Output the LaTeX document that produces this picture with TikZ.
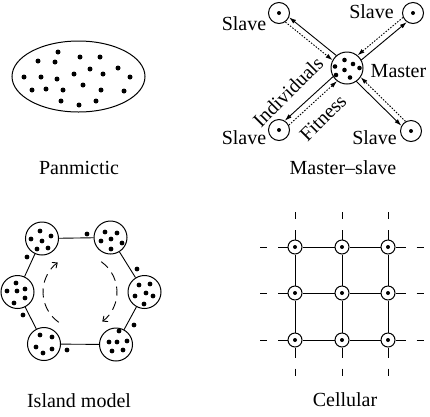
\documentclass[tikz,border=0pt]{standalone}
\usepackage{fontspec}
\setmainfont{Liberation Serif}
\usetikzlibrary{calc,arrows.meta}

\begin{document}
\begin{tikzpicture}[x=1pt,y=1pt,
        tag/.style={font=\fontsize{20}{24}\selectfont,inner sep=1pt},
        cell/.style={draw,circle,line width=1pt,inner sep=0pt,fill=white},
        link/.style={line width=0.9pt},
        send/.style={line width=0.9pt,-{Latex[length=7pt,width=4.5pt]},shorten <=16pt,shorten >=10.6pt},
        back/.style={line width=0.9pt,dash pattern=on 1.5pt off 1.5pt,-{Latex[length=7pt,width=4.5pt]},shorten <=10.6pt,shorten >=16.2pt},
        flow/.style={line width=0.9pt,dash pattern=on 9pt off 6pt,-{Straight Barb[length=4pt,width=7pt]}},
        stub/.style={line width=0.9pt,dash pattern=on 10pt off 11pt on 7pt off 20pt}]
        \useasboundingbox (0,0) rectangle (430,-416);

        % panmictic
        \draw[line width=1pt] (78.5,-76.5) ellipse (66.5 and 35.5);
        \foreach \x/\y in {58/52,38/61,55/62,80/57,100/57,118/68,90/69,103/74,74/74,24/77,41/77,57/79,
                130/77,83/85,32/90,46/89,63/90,101/90,124/91,61/101,79/105,96/101}
            \fill (\x,-\y) circle (2.5);
        \node[tag] (pan) at (79,-168) {Panmictic};

        % master-slave
        \node[cell,minimum size=32pt] (M) at (347,-68) {};
        \node[cell,minimum size=21pt] (s1) at (279,-13) {};
        \node[cell,minimum size=21pt] (s2) at (413,-13) {};
        \node[cell,minimum size=21pt] (s3) at (411,-131) {};
        \node[cell,minimum size=21pt] (s4) at (279,-130) {};
        \foreach \dx/\dy in {-2.5/8,6/4,-12/1.5,-2.5/-2,12.5/0,-11/-7,3/-9.5}
            \fill ($(M)+(\dx,\dy)$) circle (2.3);
        \foreach \s in {s1,s2,s3,s4}{
            \fill (\s) circle (2);
            \draw[send] ($(M)!3pt!-90:(\s)$) -- ($(\s)!3pt!90:(M)$);
            \draw[back] ($(\s)!3pt!-90:(M)$) -- ($(M)!3pt!90:(\s)$);
        }
        \node[tag] (l1) at (244,-24) {Slave};
        \node[tag] (l2) at (371.5,-12) {Slave};
        \node[tag] (l3) at (374.5,-138) {Slave};
        \node[tag] (l4) at (244,-138) {Slave};
        \node[tag] (lm) at (398.5,-71) {Master};
        \node[tag,rotate=45] (ind) at (288,-92) {Individuals};
        \node[tag,rotate=45] (fit) at (323,-118) {Fitness};
        \node[tag] (ms) at (343,-168) {Master--slave};

        % island model
        \node[cell,minimum size=33pt] (I1) at (42,-238.5) {};
        \node[cell,minimum size=33pt] (I2) at (110.5,-237.5) {};
        \node[cell,minimum size=33pt] (I3) at (144.5,-292) {};
        \node[cell,minimum size=33pt] (I4) at (116,-344.5) {};
        \node[cell,minimum size=33pt] (I5) at (44,-344) {};
        \node[cell,minimum size=33pt] (I6) at (17.5,-292) {};
        \draw[link] (I1) -- (I2);
        \draw[link] (I2) -- (I3);
        \draw[link] (I3) -- (I4);
        \draw[link] (I4) -- (I5);
        \draw[link] (I5) -- (I6);
        \draw[link] (I6) -- (I1);
        \foreach \dx/\dy in {-2/7.5,-11/-0.5,9/2.5,0/-2.5,-5/-10.5,6/-9.5}
            \fill ($(I1)+(\dx,\dy)$) circle (2.4);
        \foreach \dx/\dy in {-5.5/5.5,6.5/4.5,-9.5/-3.5,0.5/-1.5,11.5/-5.5,0.5/-11.5}
            \fill ($(I2)+(\dx,\dy)$) circle (2.4);
        \foreach \dx/\dy in {-5.5/7,5.5/8,-9.5/-4,1.5/-1,8.5/-4,-0.5/-12}
            \fill ($(I3)+(\dx,\dy)$) circle (2.4);
        \foreach \dx/\dy in {3/13.5,-7/2.5,1/2.5,11/3.5,-4/-6.5,7/-5.5}
            \fill ($(I4)+(\dx,\dy)$) circle (2.4);
        \foreach \dx/\dy in {-4/9,8/7,-8/-3,8/-5,-1/-9}
            \fill ($(I5)+(\dx,\dy)$) circle (2.4);
        \foreach \dx/\dy in {-1.5/9,-10.5/1,-0.5/1,7.5/3,-3.5/-11,7.5/-6}
            \fill ($(I6)+(\dx,\dy)$) circle (2.4);
        \foreach \x/\y in {87/234,137/269,134/325,67/350,23/315,27/257}
            \fill (\x,-\y) circle (2.4);
        \coordinate (ring) at (80,-292);
        \draw[flow] (ring) ++(235:37) arc (235:127:37);
        \draw[flow] (ring) ++(55:37) arc (55:-53:37);
        \node[tag] (isl) at (79,-401) {Island model};

        % cellular
        \foreach \i/\y in {1/247,2/293,3/340}
            \foreach \j/\x in {1/295,2/342,3/388}
                \node[cell,minimum size=14pt] (c\i\j) at (\x,-\y) {};
        \foreach \k in {1,2,3}{
            \draw[link] (c\k1) -- (c\k2) -- (c\k3);
            \draw[link] (c1\k) -- (c2\k) -- (c3\k);
            \draw[stub] (c1\k.north) -- ++(0,28);
            \draw[stub] (c3\k.south) -- ++(0,-28);
            \draw[stub] (c\k1.west) -- ++(-28,0);
            \draw[stub] (c\k3.east) -- ++(30,0);
        }
        \foreach \i in {1,2,3}
            \foreach \j in {1,2,3}
                \fill (c\i\j) circle (2);
        \node[tag] (cel) at (345,-400) {Cellular};
\end{tikzpicture}
\end{document}
